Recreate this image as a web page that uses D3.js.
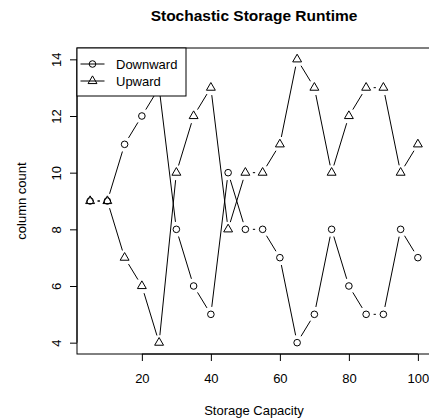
<html>
<head>
<script src="https://cdnjs.cloudflare.com/ajax/libs/d3/7.8.5/d3.min.js"></script>
<style>
body { margin: 0; background: white; }
svg text { font-family: "Liberation Sans", Arial, sans-serif; }
</style>
</head>
<body>
<svg id="canvas" width="429" height="420"></svg>
<script>
// data
var capacity = [5, 10, 15, 20, 25, 30, 35, 40, 45, 50, 55, 60, 65, 70, 75, 80, 85, 90, 95, 100];
var downward = [9, 9, 11, 12, 13, 8, 6, 5, 10, 8, 8, 7, 4, 5, 8, 6, 5, 5, 8, 7];
var upward   = [9, 9, 7, 6, 4, 10, 12, 13, 8, 10, 10, 11, 14, 13, 10, 12, 13, 13, 10, 11];
var xTicks = [20, 40, 60, 80, 100];
var yTicks = [4, 6, 8, 10, 12, 14];
var seriesNames = ["Downward", "Upward"];

var svg = d3.select("#canvas");
var pLeft = 77, pRight = 431, pTop = 48, pBottom = 354;

var x = d3.scaleLinear().domain([1.2, 103.8]).range([pLeft, pRight]);
var y = d3.scaleLinear().domain([3.6, 14.4]).range([pBottom, pTop]);

var R = 3.3;   // symbol radius
var GAP = 7.5; // type="b" gap around points

function circle(g, cx, cy) {
    g.append("circle").attr("cx", cx).attr("cy", cy).attr("r", R)
        .attr("fill", "none").attr("stroke", "black").attr("stroke-width", 1);
}
function triangle(g, cx, cy) {
    var r = 1.555 * R, xc = 1.347 * R, yc = 0.778 * R;
    var pts = [[cx, cy - r], [cx + xc, cy + yc], [cx - xc, cy + yc]];
    g.append("polygon").attr("points", pts.map(p => p.join(",")).join(" "))
        .attr("fill", "none").attr("stroke", "black").attr("stroke-width", 1);
}

function drawSeries(vals, sym) {
    var g = svg.append("g");
    for (var i = 0; i < vals.length - 1; i++) {
        var x0 = x(capacity[i]), y0 = y(vals[i]), x1 = x(capacity[i + 1]), y1 = y(vals[i + 1]);
        var dx = x1 - x0, dy = y1 - y0, len = Math.sqrt(dx * dx + dy * dy);
        if (len <= 2 * GAP) continue;
        var ux = dx / len, uy = dy / len;
        g.append("line")
            .attr("x1", x0 + ux * GAP).attr("y1", y0 + uy * GAP)
            .attr("x2", x1 - ux * GAP).attr("y2", y1 - uy * GAP)
            .attr("stroke", "black").attr("stroke-width", 1);
    }
    vals.forEach(function(v, i) { sym(g, x(capacity[i]), y(v)); });
}

drawSeries(downward, circle);
drawSeries(upward, triangle);

// box
svg.append("rect").attr("x", pLeft).attr("y", pTop)
    .attr("width", pRight - pLeft).attr("height", pBottom - pTop)
    .attr("fill", "none").attr("stroke", "black").attr("stroke-width", 1);

// x axis
var xa = svg.append("g").attr("transform", "translate(0," + pBottom + ")")
    .call(d3.axisBottom(x).tickValues(xTicks).tickSize(7).tickPadding(13));
xa.select(".domain").attr("d", "M" + x(20) + ",0H" + x(100));
xa.selectAll("text").style("font-size", "13px").attr("fill", "black").attr("font-family", null);

// y axis
var ya = svg.append("g").attr("transform", "translate(" + pLeft + ",0)")
    .call(d3.axisLeft(y).tickValues(yTicks).tickSize(7));
ya.select(".domain").attr("d", "M0," + y(4) + "V" + y(14));
ya.selectAll("text").attr("x", null).attr("dy", null)
    .attr("transform", "translate(-16,0) rotate(-90)")
    .attr("text-anchor", "middle")
    .style("font-size", "13px").attr("fill", "black").attr("font-family", null);

// titles
svg.append("text").attr("x", (pLeft + pRight) / 2).attr("y", 21)
    .attr("text-anchor", "middle").style("font-size", "15.5px").style("font-weight", "bold")
    .text("Stochastic Storage Runtime");
svg.append("text").attr("x", (pLeft + pRight) / 2).attr("y", 415)
    .attr("text-anchor", "middle").style("font-size", "13px")
    .text("Storage Capacity");
svg.append("text").attr("transform", "translate(26," + ((pTop + pBottom) / 2) + ") rotate(-90)")
    .attr("text-anchor", "middle").style("font-size", "13px")
    .text("column count");

// legend
var lg = svg.append("g");
lg.append("rect").attr("x", pLeft).attr("y", pTop).attr("width", 109).attr("height", 48)
    .attr("fill", "white").attr("stroke", "black").attr("stroke-width", 1);
var syms = [circle, triangle];
seriesNames.forEach(function(name, i) {
    var ly = 64 + i * 17;
    lg.append("line").attr("x1", 80.5).attr("x2", 104.5).attr("y1", ly).attr("y2", ly)
        .attr("stroke", "black").attr("stroke-width", 1);
    syms[i](lg, 92.5, ly);
    lg.append("text").attr("x", 116).attr("y", ly).attr("dy", "0.35em")
        .style("font-size", "13px").text(name);
});
</script>
</body>
</html>
